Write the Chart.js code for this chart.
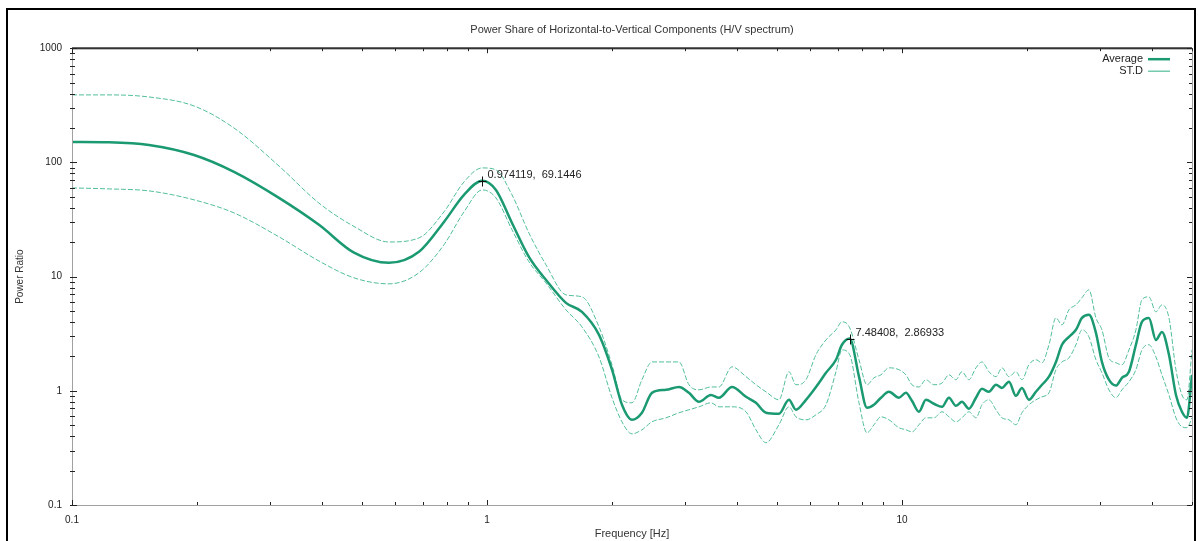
<!DOCTYPE html>
<html>
<head>
<meta charset="utf-8">
<title>H/V spectrum</title>
<script src="https://cdn.jsdelivr.net/npm/chart.js@4"></script>
<style>
  html, body { margin: 0; padding: 0; background: #fff; }
</style>
</head>
<body>
<canvas id="hvChart" width="1198" height="541"></canvas>
<script>
// frequency grid [Hz] and the three curves
const freq = [0.1, 0.1228, 0.1533, 0.1968, 0.2457, 0.3153, 0.3937, 0.4781, 0.5805, 0.6857,
  0.7877, 0.8804, 0.974119, 1.051, 1.149, 1.262, 1.387, 1.55, 1.694, 1.862,
  2.001, 2.115, 2.236, 2.363, 2.498, 2.7, 2.902, 3.067, 3.243, 3.465,
  3.623, 3.894, 4.209, 4.448, 4.703, 5.053, 5.342, 5.554, 5.871, 6.206,
  6.56, 6.934, 7.168, 7.48408, 7.879, 8.236, 8.563, 8.899, 9.304, 9.835,
  10.22, 10.57, 10.99, 11.42, 11.94, 12.49, 12.98, 13.49, 13.95, 14.5,
  15.08, 15.59, 16.2, 16.85, 17.42, 18.11, 18.82, 19.46, 20.23, 21.03,
  21.75, 22.61, 23.5, 24.3, 25.26, 26.26, 27.15, 28.22, 29.34, 30.33,
  31.53, 32.78, 33.89, 35.24, 36.63, 37.87, 39.37, 40.93, 42.32, 44.0,
  45.74, 47.29, 48.61, 50];
const average = [151, 150, 142, 116, 82.6, 48.9, 28.4, 16.2, 13.2, 16.5,
  30.1, 52, 69.1446, 57.4, 29.5, 14.9, 9.37, 5.89, 4.91, 3.09,
  1.53, 0.754, 0.557, 0.642, 0.96, 1.02, 1.08, 0.96, 0.8, 0.92,
  0.87, 1.08, 0.886, 0.785, 0.642, 0.629, 0.834, 0.682, 0.834, 1.08,
  1.437, 1.87, 2.53, 2.86933, 1.33, 0.71, 0.754, 0.87, 0.98, 0.87,
  0.96, 0.818, 0.655, 0.834, 0.77, 0.724, 0.87, 0.739, 0.8, 0.696,
  0.87, 1.04, 0.98, 1.13, 1.06, 1.2, 0.904, 1.06, 0.834, 0.98,
  1.13, 1.33, 1.79, 2.53, 2.97, 3.42, 4.35, 4.63, 3.22, 1.79,
  1.25, 1.11, 1.3, 1.47, 2.53, 4.02, 4.35, 2.79, 3.28, 2.07,
  0.92, 0.655, 0.58, 1.38];
const stdHigh = [390, 390, 374, 312, 200, 93, 44, 27.5, 20.1, 21.8,
  36.9, 67.5, 89.5, 86, 52, 24.1, 12.7, 6.92, 6.65, 3.63,
  1.69, 0.834, 0.785, 1.25, 1.79, 1.79, 1.79, 1.13, 1.02, 1.08,
  1.08, 1.62, 1.33, 1.13, 0.98, 0.834, 1.47, 1.13, 1.25, 2.07,
  2.79, 3.42, 4.02, 3.56, 1.87, 1.13, 1.3, 1.38, 1.59, 1.53,
  1.38, 1.13, 1.08, 1.25, 1.13, 1.17, 1.38, 1.25, 1.47, 1.25,
  1.59, 1.79, 1.47, 1.33, 1.59, 1.33, 1.47, 1.25, 1.69, 1.87,
  1.76, 2.53, 4.35, 3.78, 5.12, 5.66, 6.52, 7.66, 4.35, 3.42,
  1.94, 1.76, 1.69, 2.28, 3.42, 6.26, 6.65, 4.91, 5.66, 4.35,
  1.53, 0.92, 0.834, 2.28];
const stdLow = [59.8, 58.6, 56.3, 47, 36.1, 22.3, 13.7, 9.75, 8.64, 10.8,
  19, 36.9, 57.4, 48.9, 25.7, 13.5, 8.8, 5.12, 3.63, 1.98,
  0.87, 0.535, 0.42, 0.456, 0.535, 0.58, 0.642, 0.682, 0.724, 0.785,
  0.724, 0.724, 0.655, 0.456, 0.351, 0.504, 0.724, 0.592, 0.557, 0.617,
  0.754, 1.47, 2.28, 2.07, 0.785, 0.429, 0.504, 0.592, 0.557, 0.475,
  0.456, 0.437, 0.504, 0.58, 0.58, 0.655, 0.592, 0.535, 0.58, 0.655,
  0.58, 0.754, 0.834, 0.682, 0.58, 0.557, 0.504, 0.642, 0.754, 0.834,
  0.886, 0.96, 1.53, 1.79, 1.94, 2.53, 3.42, 2.97, 1.87, 1.44,
  1.02, 0.87, 1.02, 1.2, 1.53, 2.28, 2.53, 1.98, 1.38, 0.92,
  0.58, 0.484, 0.475, 0.58];

const peakFreq = [0.974119, 7.48408];
const peakValue = [69.1446, 2.86933];
const legendNames = ['Average', 'ST.D'];
const xTickLabels = [0.1, 1, 10];
const yTickLabels = [0.1, 1, 10, 100, 1000];

const avgColor = '#1b9a72';
const stdColor = '#52bf99';
const fontFamily = '"Liberation Sans", Arial, sans-serif';

function toPoints(vals) {
  return freq.map((f, i) => ({ x: f, y: vals[i] }));
}

// inward minor/major ticks on all four sides, like the gnuplot frame
function minorValues(min, max) {
  const out = [];
  for (let e = Math.floor(Math.log10(min)); e <= Math.ceil(Math.log10(max)); e++) {
    for (let d = 1; d <= 9; d++) {
      const v = d * Math.pow(10, e);
      if (v >= min * 0.999 && v <= max * 1.001) out.push({ v: v, major: d === 1 });
    }
  }
  return out;
}

const framePlugin = {
  id: 'frame',
  afterLayout(chart) {
    // centre the title over the plot area rather than the whole canvas
    if (chart.titleBlock) {
      chart.titleBlock.left = chart.chartArea.left;
      chart.titleBlock.right = chart.chartArea.right;
    }
  },
  beforeDraw(chart) {
    const c = chart.ctx;
    c.save();
    c.fillStyle = '#fff';
    c.fillRect(0, 0, chart.width, chart.height);
    c.restore();
  },
  afterDraw(chart) {
    const c = chart.ctx;
    const a = chart.chartArea;
    const xs = chart.scales.x;
    const ys = chart.scales.y;
    c.save();
    // plot border
    c.strokeStyle = '#a0a0a0';
    c.lineWidth = 1;
    c.strokeRect(a.left + 0.5, a.top + 0.5, a.right - a.left, a.bottom - a.top);
    c.strokeStyle = '#333';
    c.lineWidth = 2;
    c.beginPath();
    c.moveTo(a.left, a.top);
    c.lineTo(a.right, a.top);
    c.stroke();

    c.strokeStyle = '#222';
    c.lineWidth = 1;
    c.beginPath();
    minorValues(xs.min, xs.max).forEach(t => {
      const px = Math.round(xs.getPixelForValue(t.v)) + 0.5;
      const len = t.major ? 5 : 3;
      c.moveTo(px, a.bottom); c.lineTo(px, a.bottom - len);
      c.moveTo(px, a.top); c.lineTo(px, a.top + len);
    });
    minorValues(ys.min, ys.max).forEach(t => {
      const py = Math.round(ys.getPixelForValue(t.v)) + 0.5;
      const len = t.major ? 5 : 3;
      c.moveTo(a.left - 2, py); c.lineTo(a.left + len, py);
      c.moveTo(a.right, py); c.lineTo(a.right - len, py);
    });
    c.stroke();

    // legend inside the plot, text left of the sample line
    c.font = '11px ' + fontFamily;
    c.textAlign = 'right';
    c.textBaseline = 'middle';
    legendNames.forEach((name, i) => {
      const ly = a.top + 11 + i * 12;
      c.fillStyle = '#222';
      c.fillText(name, a.right - 49, ly);
      c.strokeStyle = i === 0 ? avgColor : stdColor;
      c.lineWidth = i === 0 ? 2.5 : 1.2;
      c.beginPath();
      c.moveTo(a.right - 44, ly);
      c.lineTo(a.right - 22, ly);
      c.stroke();
    });

    // outer screenshot frame
    c.strokeStyle = '#000';
    c.lineWidth = 2;
    c.strokeRect(7, 9, 1188, 545);
    c.restore();
  },
  afterDatasetsDraw(chart) {
    const c = chart.ctx;
    const xs = chart.scales.x;
    const ys = chart.scales.y;
    c.save();
    c.strokeStyle = '#111';
    c.lineWidth = 1;
    c.fillStyle = '#222';
    c.font = '11px ' + fontFamily;
    c.textAlign = 'left';
    c.textBaseline = 'middle';
    peakFreq.forEach((f, i) => {
      const px = Math.round(xs.getPixelForValue(f)) + 0.5;
      const py = Math.round(ys.getPixelForValue(peakValue[i])) + 0.5;
      c.beginPath();
      c.moveTo(px - 4, py); c.lineTo(px + 4, py);
      c.moveTo(px, py - 5); c.lineTo(px, py + 5);
      c.stroke();
      c.fillText(f + ',  ' + peakValue[i], px + 5, py - 7);
    });
    c.restore();
  }
};

new Chart(document.querySelector('#hvChart'), {
  type: 'line',
  data: {
    datasets: [
      {
        label: 'Average',
        data: toPoints(average),
        borderColor: avgColor,
        borderWidth: 2.5,
        pointRadius: 0,
        cubicInterpolationMode: 'monotone',
        order: 0
      },
      {
        label: 'ST.D',
        data: toPoints(stdHigh),
        borderColor: stdColor,
        borderWidth: 1,
        borderDash: [5, 2],
        pointRadius: 0,
        cubicInterpolationMode: 'monotone',
        order: 1
      },
      {
        label: 'ST.D low',
        data: toPoints(stdLow),
        borderColor: stdColor,
        borderWidth: 1,
        borderDash: [5, 2],
        pointRadius: 0,
        cubicInterpolationMode: 'monotone',
        order: 1
      }
    ]
  },
  options: {
    responsive: false,
    animation: false,
    layout: { padding: { left: 0, right: 6, top: 0, bottom: 0 } },
    plugins: {
      legend: { display: false },
      tooltip: { enabled: false },
      title: {
        display: true,
        text: 'Power Share of Horizontal-to-Vertical Components (H/V spectrum)',
        color: '#333',
        font: { size: 11, family: fontFamily, weight: 'normal' },
        padding: { top: 23, bottom: 12 }
      }
    },
    scales: {
      x: {
        type: 'logarithmic',
        min: 0.1,
        max: 50,
        afterBuildTicks: s => { s.ticks = xTickLabels.map(v => ({ value: v })); },
        afterFit: s => { s.height = 36; },
        grid: { display: false, drawTicks: false },
        border: { display: false },
        ticks: {
          autoSkip: false,
          maxRotation: 0,
          padding: 9,
          color: '#222',
          font: { size: 10, family: fontFamily },
          callback: v => String(v)
        },
        title: {
          display: true,
          text: 'Frequency [Hz]',
          color: '#333',
          font: { size: 11, family: fontFamily },
          padding: { top: 0, bottom: 0 }
        }
      },
      y: {
        type: 'logarithmic',
        min: 0.1,
        max: 1000,
        afterBuildTicks: s => { s.ticks = yTickLabels.map(v => ({ value: v })); },
        afterFit: s => { s.width = 72; },
        grid: { display: false, drawTicks: false },
        border: { display: false },
        ticks: {
          autoSkip: false,
          padding: 10,
          color: '#222',
          font: { size: 10, family: fontFamily },
          callback: v => String(v)
        },
        title: {
          display: true,
          text: 'Power Ratio',
          color: '#333',
          font: { size: 10, family: fontFamily },
          padding: { top: 14, bottom: 0 }
        }
      }
    }
  },
  plugins: [framePlugin]
});
</script>
</body>
</html>
